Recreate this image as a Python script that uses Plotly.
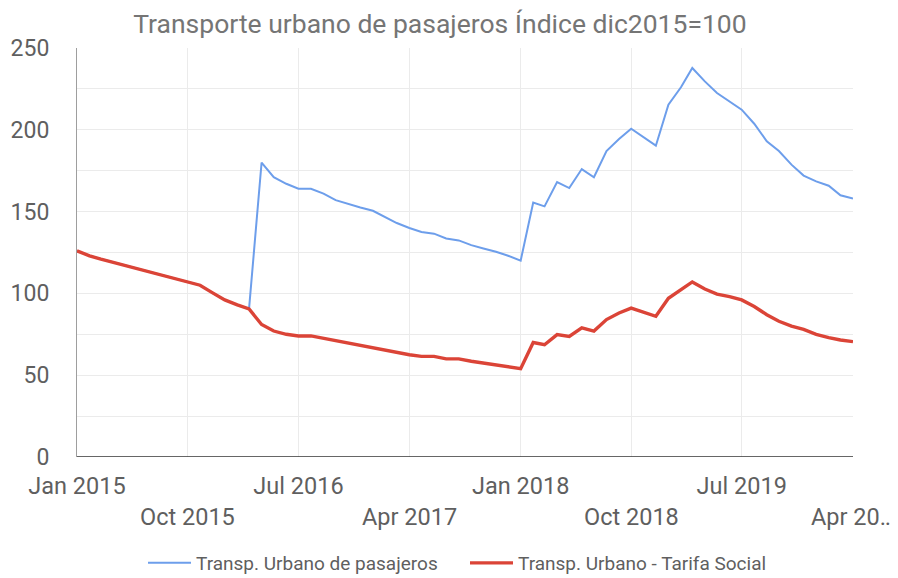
import plotly.graph_objects as go
import pandas as pd

months = pd.date_range("2015-01-01", "2020-04-01", freq="MS").strftime("%Y-%m-%d").tolist()

tarifa_social = [
    126, 123, 121, 119, 117, 115, 113, 111, 109, 107, 105, 100.5,          # 2015
    96, 93, 90.5, 81, 77, 75, 74, 74, 72.5, 71, 70, 68.5,                  # 2016
    67, 65.5, 64, 62.5, 61.5, 61.5, 60, 60, 58.5, 57.5, 56.5, 55,          # 2017
    54, 70, 68.6, 74.8, 73.7, 79, 77, 84, 88, 91, 88.5, 86,                # 2018
    97, 102, 107, 102.7, 99.6, 98, 96, 92, 87, 83, 80, 78,                 # 2019
    75, 73, 71.5, 70.5,                                                    # 2020
]

pasajeros = [
    126, 123, 121, 119, 117, 115, 113, 111, 109, 107, 105, 100.5,          # 2015
    96, 93, 90.5, 180, 171, 167, 164, 164, 161, 157, 154.5, 152.5,         # 2016
    150.5, 146.5, 143, 140, 137.5, 136.5, 133.6, 132.4, 129.5, 127.5, 125.5, 123,  # 2017
    120, 155.6, 153.2, 168, 164.4, 176, 171, 187, 194.4, 200.7, 195.5, 190.3,      # 2018
    215.3, 226, 237.8, 229.6, 222.5, 217.5, 212.3, 203.7, 193, 187, 178.7, 172,   # 2019
    168.5, 165.8, 160, 158,                                                # 2020
]

row1_ticks = ["2015-01-01", "2016-07-01", "2018-01-01", "2019-07-01"]
row1_labels = ["Jan 2015", "Jul 2016", "Jan 2018", "Jul 2019"]
row2_ticks = ["2015-10-01", "2017-04-01", "2018-10-01", "2020-04-01"]
row2_labels = ["Oct 2015", "Apr 2017", "Oct 2018", "Apr 20…"]

y_ticks = [0, 50, 100, 150, 200, 250]

FONT = "Roboto"
TICK_COLOR = "#5f5f5f"
GRID = "#ebebeb"

fig = go.Figure()
fig.add_trace(go.Scatter(
    x=months, y=pasajeros, mode="lines", name="Transp. Urbano de pasajeros",
    line=dict(color="#6d9eeb", width=2),
))
fig.add_trace(go.Scatter(
    x=months, y=tarifa_social, mode="lines", name="Transp. Urbano - Tarifa Social",
    line=dict(color="#db4437", width=3.4),
))

all_ticks = sorted(row1_ticks + row2_ticks)
all_text = [row1_labels[row1_ticks.index(t)] if t in row1_ticks else "" for t in all_ticks]

fig.update_xaxes(
    type="date", range=["2015-01-01", "2020-04-01"],
    tickvals=all_ticks, ticktext=all_text,
    showgrid=True, gridcolor=GRID, gridwidth=1,
    showline=False, zeroline=False, ticks="",
    tickfont=dict(family=FONT, size=23.5, color=TICK_COLOR),
    ticklabelstandoff=12, automargin=False,
)
fig.update_yaxes(
    range=[0, 250], tickvals=y_ticks,
    showgrid=True, gridcolor=GRID, gridwidth=1,
    minor=dict(dtick=25, tick0=0, showgrid=True, gridcolor=GRID, gridwidth=1),
    showline=True, linecolor="#9e9e9e", linewidth=1,
    zeroline=False, ticks="",
    tickfont=dict(family=FONT, size=23, color=TICK_COLOR),
    ticklabelstandoff=22, automargin=False,
)

# baseline at zero
fig.add_hline(y=0, line=dict(color="#333333", width=1.5))

for t, lab in zip(row2_ticks, row2_labels):
    fig.add_annotation(
        x=t, xref="x", y=-0.1467, yref="paper", text=lab, showarrow=False,
        xanchor="center", yanchor="middle",
        font=dict(family=FONT, size=23.5, color=TICK_COLOR),
    )

fig.update_layout(
    width=898, height=578,
    margin=dict(l=69, r=53, t=40, b=129),
    paper_bgcolor="white", plot_bgcolor="white",
    title=dict(
        text="Transporte urbano de pasajeros Índice dic2015=100",
        x=0.481, xanchor="center", xref="container",
        y=0.973, yanchor="middle", yref="container",
        font=dict(family=FONT, size=26.5, color="#757575"),
    ),
    legend=dict(
        orientation="h", x=0.5, xanchor="center", xref="paper",
        y=0.0398, yanchor="middle", yref="container",
        font=dict(family=FONT, size=19, color="#5f5f5f"),
        itemwidth=43, entrywidth=264,
    ),
    showlegend=True,
)

fig.write_html("out.html")
